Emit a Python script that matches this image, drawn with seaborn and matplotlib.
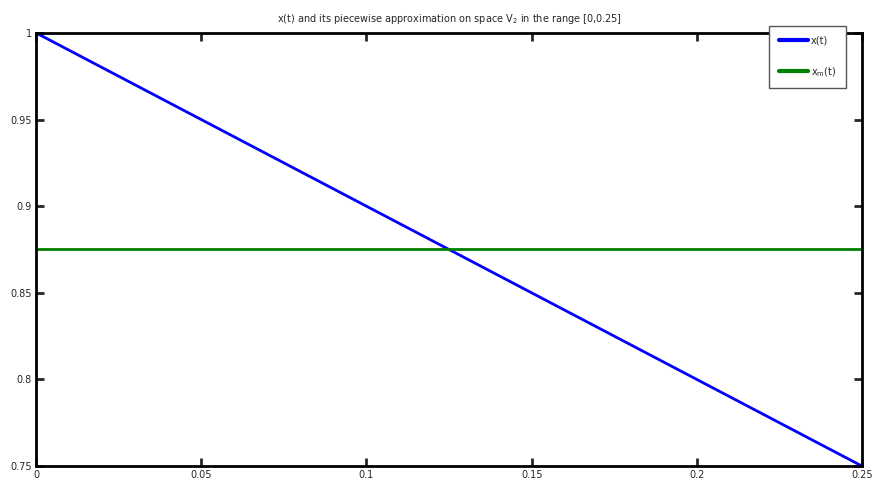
import numpy as np
import pandas as pd
import matplotlib
matplotlib.use("Agg")
import matplotlib.pyplot as plt
import seaborn as sns

# data
t_vals = [0.0, 0.25]
x_vals = [1.0, 0.75]
xm_vals = [0.875, 0.875]

x_ticks = [0, 0.05, 0.1, 0.15, 0.2, 0.25]
x_tick_labels = ["0", "0.05", "0.1", "0.15", "0.2", "0.25"]
y_ticks = [0.75, 0.8, 0.85, 0.9, 0.95, 1]
y_tick_labels = ["0.75", "0.8", "0.85", "0.9", "0.95", "1"]

df = pd.DataFrame({"t": t_vals + t_vals,
                   "value": x_vals + xm_vals,
                   "series": ["x(t)"] * 2 + ["$\\mathregular{x_m(t)}$"] * 2})

sns.set_style("white")
plt.rcParams["font.family"] = ["DejaVu Sans"]

fig = plt.figure(figsize=(8.77, 4.98), dpi=100)
ax = fig.add_axes([0.041, 0.064, 0.942, 0.870])

sns.lineplot(data=df, x="t", y="value", hue="series",
             palette=["#0000ff", "#007f00"], linewidth=2, ax=ax)

ax.set_xlim(0, 0.25)
ax.set_ylim(0.75, 1)
ax.set_xticks(x_ticks)
ax.set_xticklabels(x_tick_labels)
ax.set_yticks(y_ticks)
ax.set_yticklabels(y_tick_labels)
ax.tick_params(direction="in", length=6, width=2, labelsize=7,
               top=True, right=True, bottom=True, left=True, pad=3)
for s in ax.spines.values():
    s.set_linewidth(2)
    s.set_color("black")
ax.set_xlabel("")
ax.set_ylabel("")
ax.set_title("x(t) and its piecewise approximation on space $\\mathregular{V_2}$ in the range [0,0.25]",
             fontsize=7, pad=8)

handles, labels = ax.get_legend_handles_labels()
leg = ax.legend(handles, labels, loc="upper right", fontsize=7,
                bbox_to_anchor=(0.965, 0.948), bbox_transform=fig.transFigure,
                borderaxespad=0, frameon=True, fancybox=False, edgecolor="#555555",
                framealpha=1, handlelength=3, borderpad=1.0, labelspacing=2.0,
                handletextpad=0.3)
leg.get_frame().set_linewidth(1)
for line in leg.get_lines():
    line.set_linewidth(3)

fig.savefig("out.png", dpi=100)
